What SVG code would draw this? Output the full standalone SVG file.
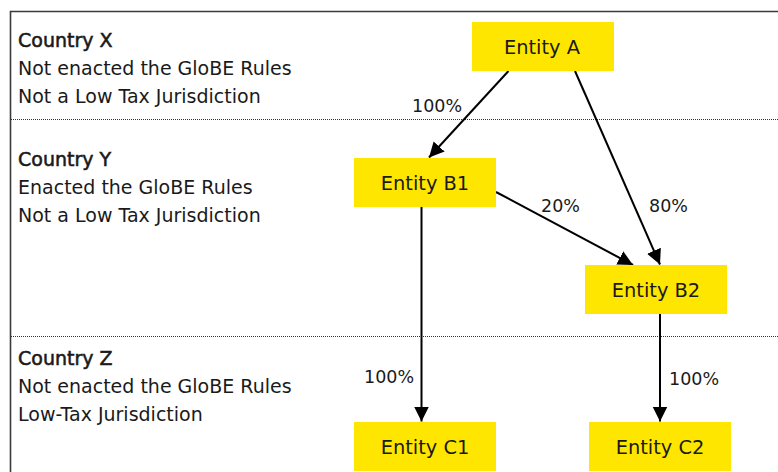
<svg xmlns="http://www.w3.org/2000/svg" width="778" height="472" viewBox="0 0 778 472">
  <style>
    text { font-family: "DejaVu Sans", "Liberation Sans", sans-serif; fill: #1a1a1a; }
    .head { font-size: 19px; stroke: #1a1a1a; stroke-width: 0.55px; }
    .desc { font-size: 19px; }
    .box { fill: #ffe600; }
    .lbl { font-size: 19.4px; text-anchor: middle; }
    .pct { font-size: 17.5px; }
    .frame { stroke: #3a3a3a; stroke-width: 1.6; fill: none; }
    .sep { stroke: #333; stroke-width: 1; stroke-dasharray: 1 1; fill: none; }
    .edge { stroke: #000; stroke-width: 2; fill: none; marker-end: url(#arrow); }
  </style>
  <defs>
    <marker id="arrow" markerUnits="userSpaceOnUse" markerWidth="16" markerHeight="16" refX="15" refY="7.5" orient="auto">
      <path d="M0,0 L15,7.5 L0,15 z" fill="#000"/>
    </marker>
  </defs>
  <rect width="778" height="472" fill="#fff"/>

  <!-- frame and jurisdiction bands -->
  <g id="frame">
    <path class="frame" d="M778,11.5 H10.5 V472"/>
    <line class="sep" x1="11" y1="119.5" x2="778" y2="119.5"/>
    <line class="sep" x1="11" y1="336.5" x2="778" y2="336.5"/>
  </g>

  <g id="country-x">
    <text class="head" x="18" y="47">Country X</text>
    <text class="desc" x="18" y="75">Not enacted the GloBE Rules</text>
    <text class="desc" x="18" y="103">Not a Low Tax Jurisdiction</text>
  </g>
  <g id="country-y">
    <text class="head" x="18" y="166">Country Y</text>
    <text class="desc" x="18" y="194">Enacted the GloBE Rules</text>
    <text class="desc" x="18" y="222">Not a Low Tax Jurisdiction</text>
  </g>
  <g id="country-z">
    <text class="head" x="18" y="365">Country Z</text>
    <text class="desc" x="18" y="393">Not enacted the GloBE Rules</text>
    <text class="desc" x="18" y="421">Low-Tax Jurisdiction</text>
  </g>

  <!-- ownership connectors -->
  <g id="connectors">
    <line class="edge" x1="508.5" y1="71" x2="429" y2="157.5"/>
    <line class="edge" x1="575" y1="71" x2="660" y2="264.5"/>
    <line class="edge" x1="496" y1="192" x2="633" y2="265"/>
    <line class="edge" x1="421.5" y1="207" x2="421.5" y2="421.5"/>
    <line class="edge" x1="660" y1="314" x2="660" y2="421.5"/>
    <text class="pct" x="412" y="112">100%</text>
    <text class="pct" x="541" y="212">20%</text>
    <text class="pct" x="649" y="212">80%</text>
    <text class="pct" x="364" y="383">100%</text>
    <text class="pct" x="669" y="385">100%</text>
  </g>

  <g id="entity-a">
    <rect class="box" x="472" y="22" width="142" height="49"/>
    <text class="lbl" x="542" y="53.5">Entity A</text>
  </g>
  <g id="entity-b1">
    <rect class="box" x="354" y="158" width="142" height="49"/>
    <text class="lbl" x="425" y="190">Entity B1</text>
  </g>
  <g id="entity-b2">
    <rect class="box" x="585" y="265" width="142" height="49"/>
    <text class="lbl" x="656" y="297">Entity B2</text>
  </g>
  <g id="entity-c1">
    <rect class="box" x="354" y="422" width="142" height="49"/>
    <text class="lbl" x="425" y="454">Entity C1</text>
  </g>
  <g id="entity-c2">
    <rect class="box" x="589" y="422" width="142" height="49"/>
    <text class="lbl" x="660" y="454">Entity C2</text>
  </g>
</svg>
